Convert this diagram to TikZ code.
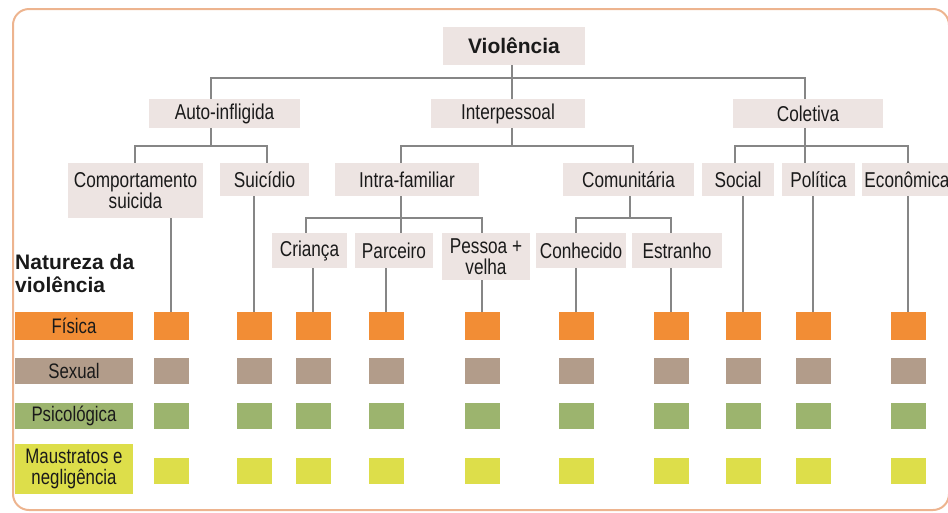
\documentclass[tikz,border=0pt]{standalone}
\usepackage{fontspec}
\setmainfont{Liberation Sans}
\newfontfamily\cond{Liberation Sans}[FakeStretch=0.8]
\definecolor{boxfill}{HTML}{EDE4E2}
\definecolor{linegray}{HTML}{868686}
\definecolor{framec}{HTML}{EDB48F}
\definecolor{cF}{HTML}{F28D35}
\definecolor{cS}{HTML}{B29C8A}
\definecolor{cP}{HTML}{9CB46E}
\definecolor{cM}{HTML}{DDDE4A}
\definecolor{txt}{HTML}{1A1A1A}
\begin{document}
\begin{tikzpicture}[x=1pt,y=-1pt,
  box/.style={fill=boxfill, draw=none, inner sep=0pt, text=txt, align=center,
              font=\cond\fontsize{21.5}{21}\selectfont},
  conn/.style={draw=linegray, line width=1.4pt},
  sq/.style={minimum width=35pt, minimum height=27pt, inner sep=0pt},
  lab/.style={minimum width=118pt, inner sep=0pt, text=txt, align=center,
              font=\cond\fontsize{21}{20.5}\selectfont}]
\useasboundingbox (0,0) rectangle (948,512);
\draw[framec, line width=2pt, rounded corners=16pt] (13,9) rectangle (949,510);

% tree boxes
\node[box, font=\fontsize{21}{22}\selectfont\bfseries, minimum width=142pt, minimum height=38pt] (viol) at (514,46) {Violência};
\node[box, minimum width=151pt, minimum height=29pt] (auto) at (224.5,113.5) {Auto-infligida};
\node[box, minimum width=154pt, minimum height=29pt] (inter) at (508,113.5) {Interpessoal};
\node[box, minimum width=150pt, minimum height=29pt] (colet) at (808,113.5) {Coletiva};

\node[box, minimum width=135pt, minimum height=55pt] (comp) at (135.5,190.5) {Comportamento\\suicida};
\node[box, minimum width=89pt, minimum height=33pt] (suic) at (264.5,179.5) {Suicídio};
\node[box, minimum width=144pt, minimum height=33pt] (intra) at (407,179.5) {Intra-familiar};
\node[box, minimum width=131pt, minimum height=33pt] (comun) at (628.5,179.5) {Comunitária};
\node[box, minimum width=72pt, minimum height=33pt] (social) at (738,179.5) {Social};
\node[box, minimum width=73pt, minimum height=33pt] (polit) at (818.5,179.5) {Política};
\node[box, minimum width=90pt, minimum height=33pt] (econ) at (907,179.5) {Econômica};

\node[box, minimum width=75pt, minimum height=35pt] (crian) at (309.5,250.5) {Criança};
\node[box, minimum width=78pt, minimum height=35pt] (parc) at (394,250.5) {Parceiro};
\node[box, minimum width=88pt, minimum height=47pt] (pessoa) at (486,256.5) {Pessoa +\\velha};
\node[box, minimum width=90pt, minimum height=35pt] (conh) at (581,250.5) {Conhecido};
\node[box, minimum width=90pt, minimum height=35pt] (estr) at (677,250.5) {Estranho};

% tree connectors
\draw[conn] (viol.south -| 512,0) -- (inter.north -| 512,0);
\draw[conn] (auto.north -| 211,0) |- (512,78) -| (colet.north -| 805,0);
\draw[conn] (auto.south -| 211,0) -- (211,146);
\draw[conn] (comp.north -| 135,0) |- (211,146) -| (suic.north -| 267,0);
\draw[conn] (inter.south -| 512,0) -- (512,146);
\draw[conn] (intra.north -| 401,0) |- (512,146) -| (comun.north -| 633,0);
\draw[conn] (colet.south -| 805,0) -- (polit.north -| 805,0);
\draw[conn] (social.north -| 735,0) |- (805,146) -| (econ.north -| 908,0);
\draw[conn] (intra.south -| 401,0) -- (parc.north -| 401,0);
\draw[conn] (crian.north -| 306,0) |- (401,218) -| (pessoa.north -| 482,0);
\draw[conn] (comun.south -| 630,0) -- (630,218);
\draw[conn] (conh.north -| 576,0) |- (630,218) -| (estr.north -| 671,0);

% legend
\node[font=\fontsize{21}{23}\selectfont\bfseries, text=txt, anchor=north west, inner sep=0pt, align=left] (nat) at (15,254) {Natureza da\\violência};
\node[lab, fill=cF, minimum height=28pt] (lf) at (74,326) {Física};
\node[lab, fill=cS, minimum height=26pt] (ls) at (74,371) {Sexual};
\node[lab, fill=cP, minimum height=26pt] (lp) at (74,416) {Psicológica};
\node[lab, fill=cM, minimum height=50pt] (lm) at (74,469) {Maustratos e\\negligência};

% squares
\foreach \i/\x in {1/171,2/254,3/313,4/386,5/482,6/576,7/671,8/743,9/813,10/908}{
  \node[sq, fill=cF, minimum height=28pt] (f\i) at (\x,326) {};
  \node[sq, fill=cS, minimum height=26pt] (s\i) at (\x,371) {};
  \node[sq, fill=cP, minimum height=26pt] (p\i) at (\x,416) {};
  \node[sq, fill=cM, minimum height=26pt] (m\i) at (\x,471) {};
}

% drops to squares
\draw[conn] (comp.south -| f1.north) -- (f1.north);
\draw[conn] (suic.south -| f2.north) -- (f2.north);
\draw[conn] (crian.south -| f3.north) -- (f3.north);
\draw[conn] (parc.south -| f4.north) -- (f4.north);
\draw[conn] (pessoa.south -| f5.north) -- (f5.north);
\draw[conn] (conh.south -| f6.north) -- (f6.north);
\draw[conn] (estr.south -| f7.north) -- (f7.north);
\draw[conn] (social.south -| f8.north) -- (f8.north);
\draw[conn] (polit.south -| f9.north) -- (f9.north);
\draw[conn] (econ.south -| f10.north) -- (f10.north);
\end{tikzpicture}
\end{document}
